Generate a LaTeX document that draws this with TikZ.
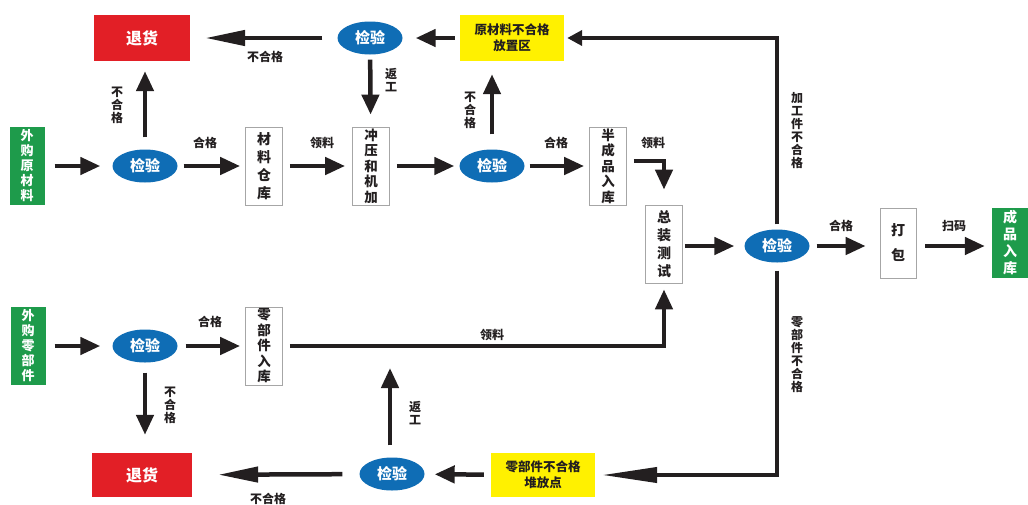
\documentclass[tikz,border=0pt]{standalone}
\usepackage{fontspec}
\setmainfont{Noto Sans CJK SC}
\usetikzlibrary{arrows.meta,shapes.geometric}
\definecolor{cblue}{HTML}{0F6DB5}
\definecolor{cred}{HTML}{E21F26}
\definecolor{cyel}{HTML}{FFF100}
\definecolor{cgreen}{HTML}{1E9B4B}
\definecolor{cline}{HTML}{231F20}
\tikzset{
  wbox/.style={draw=gray!70, line width=0.8pt, fill=white, minimum width=37pt, minimum height=78pt, inner sep=0pt, align=center, font=\bfseries\fontsize{14}{18}\selectfont, text=cline},
  wboxf/.style={wbox, font=\bfseries\fontsize{13.5}{15.5}\selectfont},
  gbox/.style={fill=cgreen, minimum width=35pt, minimum height=78pt, inner sep=0pt, align=center, font=\bfseries\fontsize{13}{15}\selectfont, text=white},
  rbox/.style={fill=cred, minimum width=96pt, minimum height=46pt, inner sep=0pt, font=\bfseries\fontsize{16}{18}\selectfont, text=white},
  ybox/.style={fill=cyel, minimum width=104pt, minimum height=46pt, inner sep=0pt, align=center, font=\bfseries\fontsize{12.5}{16}\selectfont, text=cline},
  chk/.style={ellipse, fill=cblue, minimum width=65pt, minimum height=33pt, inner sep=0pt, font=\bfseries\fontsize{15}{18}\selectfont, text=white},
  arr/.style={line width=4.5pt, draw=cline, -{Triangle[length=20pt,width=17pt]}},
  larr/.style={line width=4.5pt, draw=cline, -{Triangle[length=40pt,width=15pt]}},
  tline/.style={line width=4pt, draw=cline, -{Triangle[length=15pt,width=15pt]}},
  ltline/.style={line width=4pt, draw=cline, -{Triangle[length=55pt,width=15pt]}},
  lbl/.style={font=\bfseries\fontsize{12}{13}\selectfont, text=cline, align=center, inner sep=0pt},
}
\begin{document}
\begin{tikzpicture}[x=1pt,y=-1pt]
\useasboundingbox[fill=white] (0,0) rectangle (1028,504);
% nodes
\node[gbox] (wyc) at (27,166) {外\\购\\原\\材\\料};
\node[chk] (j1) at (145,166) {检验};
\node[rbox] (th1) at (142,38) {退货};
\node[wbox] (clck) at (264,166) {材\\料\\仓\\库};
\node[wboxf] (cy) at (371,166) {冲\\压\\和\\机\\加};
\node[chk] (j2) at (492,166) {检验};
\node[ybox] (y1) at (512,38) {原材料不合格\\放置区};
\node[chk] (jt) at (370,38) {检验};
\node[wboxf] (bcp) at (608,166) {半\\成\\品\\入\\库};
\node[wbox] (zz) at (664,244) {总\\装\\测\\试};
\node[chk] (j3) at (777,246) {检验};
\node[wbox, minimum height=70pt, minimum width=36pt, font=\bfseries\fontsize{14}{25}\selectfont] (db) at (898,243) {打\\包};
\node[gbox, minimum height=70pt, minimum width=36pt, font=\bfseries\fontsize{14}{17}\selectfont] (cp) at (1010,243) {成\\品\\入\\库};
\node[gbox] (wyl) at (28,346) {外\\购\\零\\部\\件};
\node[chk] (j4) at (145,346) {检验};
\node[rbox, minimum width=100pt, minimum height=44pt] (th2) at (142,475) {退货};
\node[wboxf] (lbj) at (264,346) {零\\部\\件\\入\\库};
\node[chk] (j5) at (392,474) {检验};
\node[ybox, minimum height=44pt] (y2) at (543,475) {零部件不合格\\堆放点};
% connectors
\draw[arr, shorten <=10pt, shorten >=12pt] (wyc) -- (j1);
\draw[arr, shorten <=12pt, shorten >=10pt] (j1.north) -- (j1.north |- th1.south);
\draw[arr, shorten <=6pt, shorten >=5pt] (j1) -- (clck);
\draw[arr, shorten <=7pt, shorten >=7pt] (clck) -- (cy);
\draw[arr, shorten <=7pt, shorten >=5pt] (cy) -- (j2);
\draw[arr, shorten <=15pt, shorten >=13pt] (j2.north) -- (j2.north |- y1.south);
\draw[arr, shorten <=5pt, shorten >=13pt] (y1) -- (jt);
\draw[larr, shorten <=15pt, shorten >=15pt] (jt) -- (th1);
\draw[arr, shorten <=5pt, shorten >=12pt] (jt) -- (cy);
\draw[arr, shorten <=5pt, shorten >=5pt] (j2) -- (bcp);
\draw[arr, shorten >=15pt] ([xshift=7pt,yshift=5pt]bcp.east) -| (zz.north);
\draw[arr, shorten <=2pt, shorten >=10pt] (zz.east |- j3) -- (j3);
\draw[tline, shorten <=5pt, shorten >=3pt] (j3.north) |- (y1.east);
\draw[ltline, shorten <=8pt, shorten >=7pt] (j3.south) |- (y2.east);
\draw[arr, shorten <=7pt, shorten >=14pt] (j3) -- (j3 -| db.west);
\draw[arr, shorten <=9pt, shorten >=7pt] (j3 -| db.east) -- (j3 -| cp.west);
\draw[arr, shorten <=9pt, shorten >=12pt] (wyl) -- (j4);
\draw[arr, shorten <=10pt, shorten >=18pt] (j4.south) -- (j4.south |- th2.north);
\draw[arr, shorten <=8pt, shorten >=5pt] (j4) -- (lbj);
\draw[arr, shorten <=7pt, shorten >=6pt] (lbj) -| (zz.south);
\draw[arr, shorten <=7pt, shorten >=10pt] (y2) -- (j5);
\draw[larr, shorten <=17pt, shorten >=26pt] (j5) -- (th2);
\draw[arr, shorten <=12pt, shorten >=22pt] ([xshift=-2pt]j5.north) -- ([xshift=-2pt]j5.north |- lbj);
% labels
\node[lbl] (l1) at (117,105) {不\\合\\格};
\node[lbl] (l2) at (265,57) {不合格};
\node[lbl] (l3) at (391,80) {返\\工};
\node[lbl] (l4) at (205,143) {合格};
\node[lbl] (l5) at (322,143) {领料};
\node[lbl] (l6) at (470,110) {不\\合\\格};
\node[lbl] (l7) at (556,143) {合格};
\node[lbl] (l8) at (653,143) {领料};
\node[lbl] (l9) at (797,131) {加\\工\\件\\不\\合\\格};
\node[lbl] (l10) at (841,226) {合格};
\node[lbl] (l11) at (954,226) {扫码};
\node[lbl] (l12) at (797,355) {零\\部\\件\\不\\合\\格};
\node[lbl] (l13) at (210,322) {合格};
\node[lbl] (l14) at (170,405) {不\\合\\格};
\node[lbl] (l15) at (492,335) {领料};
\node[lbl] (l16) at (415,413) {返\\工};
\node[lbl] (l17) at (268,499) {不合格};
\end{tikzpicture}
\end{document}
